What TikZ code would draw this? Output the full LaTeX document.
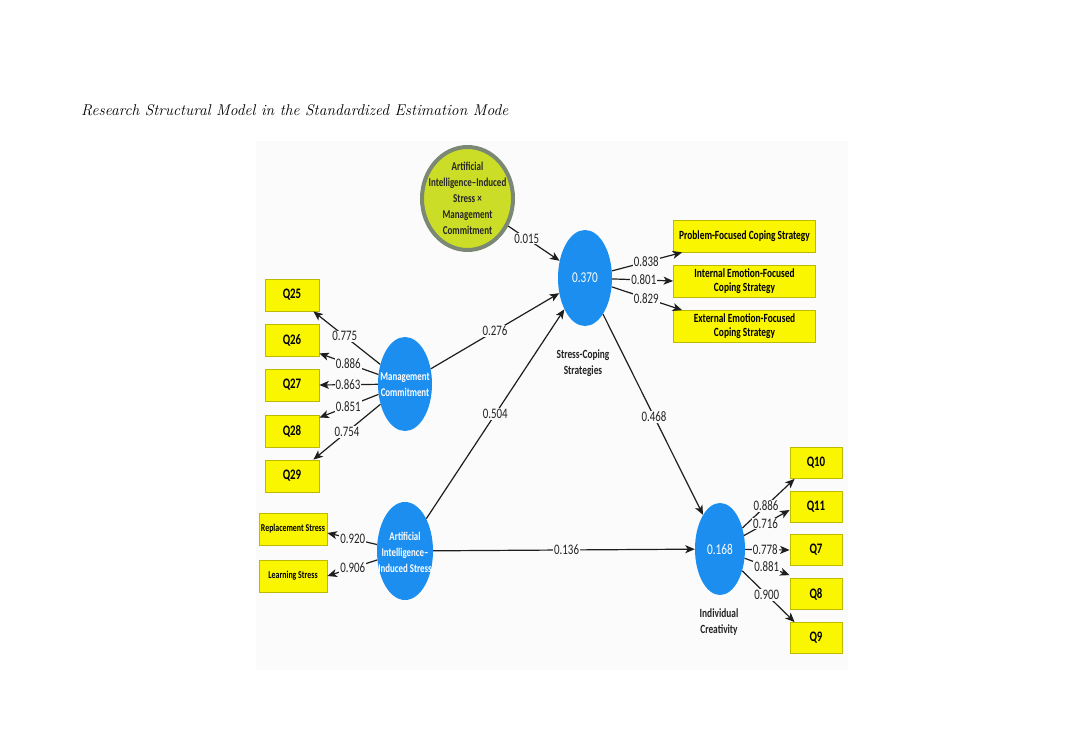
\documentclass[tikz,border=0pt]{standalone}
\usepackage{fontspec}
\newfontfamily\cf[FakeStretch=0.75]{Carlito}
\usetikzlibrary{arrows.meta,shapes.geometric,calc}
\definecolor{lvblue}{RGB}{28,142,240}
\definecolor{yel}{RGB}{250,246,0}
\definecolor{yelb}{RGB}{190,186,0}
\definecolor{intf}{RGB}{204,221,40}
\definecolor{intb}{RGB}{122,136,116}
\definecolor{panel}{RGB}{251,251,251}
\definecolor{linec}{RGB}{30,30,30}
\definecolor{numc}{RGB}{35,35,35}
\tikzset{
  lv/.style={ellipse, fill=lvblue, draw=none, inner sep=0pt},
  wt/.style={text=white, font=\cf\bfseries\fontsize{11.8}{16}\selectfont, align=center, inner sep=0pt},
  wnum/.style={text=white, font=\cf\fontsize{15}{16}\selectfont, inner sep=0pt},
  ybox/.style={rectangle, fill=yel, draw=yelb, line width=0.8pt, minimum width=54pt, minimum height=32pt, inner sep=0pt, font=\cf\bfseries\fontsize{14.5}{16}\selectfont, align=center},
  wbox/.style={ybox, minimum width=142pt, font=\cf\bfseries\fontsize{12.5}{14}\selectfont},
  sbox/.style={ybox, minimum width=68pt, font=\cf\bfseries\fontsize{10.5}{12}\selectfont},
  pth/.style={draw=linec, line width=1.2pt, -{Stealth[length=9.5pt,width=8pt,inset=2.5pt]}},
  num/.style={fill=panel, inner sep=1pt, font=\cf\fontsize{14.5}{14}\selectfont, text=numc},
  dlab/.style={text=numc, font=\cf\bfseries\fontsize{12.5}{16}\selectfont, align=center, inner sep=0pt},
}
\begin{document}
\begin{tikzpicture}[x=1pt,y=-1pt]
\useasboundingbox (0,0) rectangle (1082,741);
\fill[white] (0,0) rectangle (1082,741);
\fill[panel] (256,141) rectangle (848,670);

\node[anchor=base west, inner sep=0pt, font=\itshape\fontsize{15.6}{18}\selectfont] (title) at (81,116) {Research Structural Model in the Standardized Estimation Mode};

% latent variables
\node[ellipse, fill=intf, draw=intb, line width=4pt, minimum width=91pt, minimum height=103pt, inner sep=0pt] (int) at (467.5,198.5) {};
\node[dlab, font=\cf\bfseries\fontsize{12}{16}\selectfont, text=black!85] (intt) at (467.5,198.5) {Artificial\\Intelligence–Induced\\Stress ×\\Management\\Commitment};

\node[lv, minimum width=54pt, minimum height=96pt] (scs) at (585,278) {};
\node[wnum] (scst) at (585,278) {0.370};
\node[dlab] (scsl) at (583,363) {Stress-Coping\\Strategies};

\node[lv, minimum width=54pt, minimum height=94pt] (mc) at (405,384) {};
\node[wt] (mct) at (405,385) {Management\\Commitment};

\node[lv, minimum width=56pt, minimum height=98pt] (ai) at (405,551) {};
\node[wt] (ait) at (405,552) {Artificial\\Intelligence–\\Induced Stress};

\node[lv, minimum width=50pt, minimum height=92pt] (ic) at (720,549) {};
\node[wnum] (ict) at (720,549) {0.168};
\node[dlab] (icl) at (719,622) {Individual\\Creativity};

% indicators
\node[ybox] (q25) at (292,295) {Q25};
\node[ybox] (q26) at (292,340) {Q26};
\node[ybox] (q27) at (292,385) {Q27};
\node[ybox] (q28) at (292,431) {Q28};
\node[ybox] (q29) at (292,476) {Q29};
\node[sbox] (rs) at (293,529) {Replacement Stress};
\node[sbox] (ls) at (293,576) {Learning Stress};
\node[wbox] (pf) at (744.5,236) {Problem-Focused Coping Strategy};
\node[wbox] (ief) at (744.5,281) {Internal Emotion-Focused\\Coping Strategy};
\node[wbox] (eef) at (744.5,326.5) {External Emotion-Focused\\Coping Strategy};
\node[ybox, minimum width=52pt, minimum height=31pt] (q10) at (816,463) {Q10};
\node[ybox, minimum width=52pt, minimum height=31pt] (q11) at (816,507) {Q11};
\node[ybox, minimum width=52pt, minimum height=31pt] (q7) at (816,550) {Q7};
\node[ybox, minimum width=52pt, minimum height=31pt] (q8) at (816,594) {Q8};
\node[ybox, minimum width=52pt, minimum height=31pt] (q9) at (816,638) {Q9};

% structural paths
\draw[pth] (int) -- node[num,pos=.36]{0.015} (scs);
\draw[pth] (mc) -- node[num,pos=.5]{0.276} (scs);
\draw[pth] (ai) -- node[num,pos=.5]{0.504} (scs);
\draw[pth] (scs) -- node[num,pos=.51]{0.468} (ic);
\draw[pth] (ai) -- node[num,pos=.51]{0.136} (ic);

% measurement paths
\draw[pth] (mc) -- node[num,pos=.53]{0.775} ([xshift=-6pt]q25.south east);
\draw[pth] (mc) -- node[num,pos=.51]{0.886} ([yshift=3pt]q26.south east);
\draw[pth] (mc) -- node[num,pos=.51]{0.863} (q27.east);
\draw[pth] (mc) -- node[num,pos=.51]{0.851} ([yshift=-3pt]q28.north east);
\draw[pth] (mc) -- node[num,pos=.5]{0.754} ([xshift=-6pt]q29.north east);
\draw[pth] (ai) -- node[num,pos=.49]{0.920} ([yshift=-4pt]rs.east);
\draw[pth] (ai) -- node[num,pos=.49]{0.906} (ls.east);
\draw[pth] (scs) -- node[num,pos=.49]{0.838} ([xshift=9pt]pf.south west);
\draw[pth] (scs) -- node[num,pos=.52]{0.801} (ief.west);
\draw[pth] (scs) -- node[num,pos=.49]{0.829} ([xshift=9pt]eef.north west);
\draw[pth] (ic) -- node[num,pos=.45]{0.886} ([xshift=5pt]q10.south west);
\draw[pth] (ic) -- node[num,pos=.47]{0.716} ([yshift=-3pt]q11.west);
\draw[pth] (ic) -- node[num,pos=.45]{0.778} (q7.west);
\draw[pth] (ic) -- node[num,pos=.49]{0.881} ([yshift=3pt]q8.north west);
\draw[pth] (ic) -- node[num,pos=.47]{0.900} ([xshift=5pt]q9.north west);
\end{tikzpicture}
\end{document}
